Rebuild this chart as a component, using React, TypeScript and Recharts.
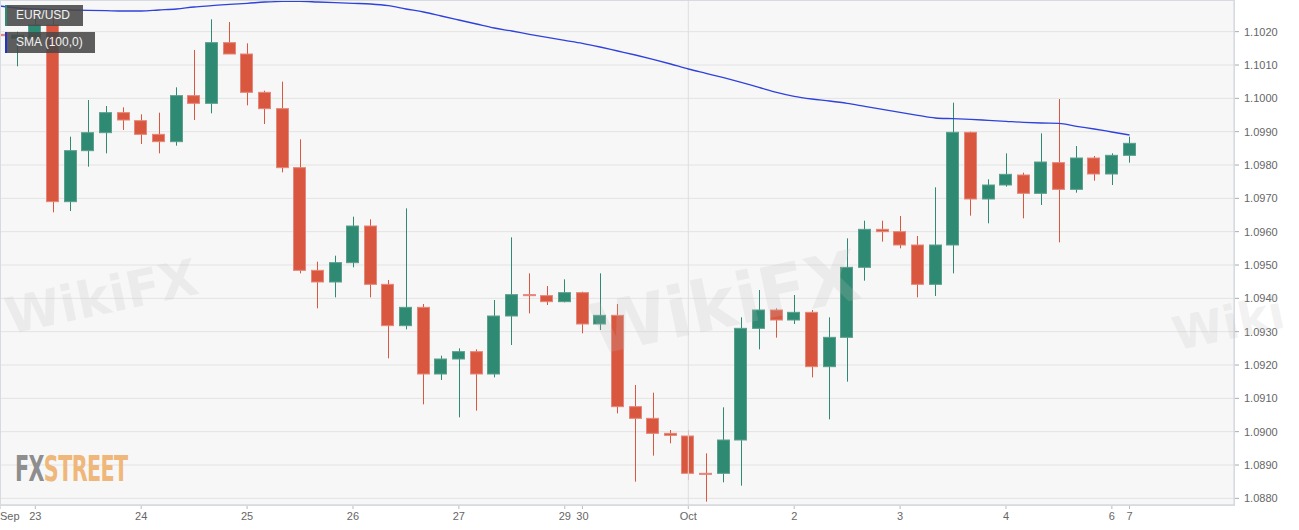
import React from 'react';
import { ComposedChart, Bar, Line, XAxis, YAxis, CartesianGrid, ReferenceLine } from 'recharts';

// 4h candles, EUR/USD, Sep 22 - Oct 7
const opens = [
  1.10192, 1.1018, 1.1018, 1.1022, 1.0969, 1.09843, 1.09897, 1.09957, 1.09933, 1.09892,
  1.0987, 1.10008, 1.09985, 1.10167, 1.10133, 1.10018, 1.09969, 1.09792, 1.09484, 1.09449,
  1.09507, 1.09617, 1.09442, 1.09318, 1.09373, 1.09173, 1.09218, 1.0924, 1.09173, 1.09347,
  1.09411, 1.09408, 1.0939, 1.09417, 1.09323, 1.09349, 1.09075, 1.0904, 1.08995, 1.08987,
  1.08875, 1.08875, 1.08975, 1.0931, 1.09365, 1.09335, 1.09358, 1.09195, 1.09283, 1.09493,
  1.09607, 1.096, 1.0956, 1.09442, 1.0956, 1.09898, 1.09698, 1.0974, 1.0977, 1.09715,
  1.09807, 1.09727, 1.09821, 1.09773, 1.09829,
];
const highs = [
  1.10205, 1.102, 1.1024, 1.10255, 1.09885, 1.09995, 1.09977, 1.09973, 1.09952, 1.09957,
  1.10033, 1.10145, 1.10237, 1.10229, 1.10165, 1.10023, 1.1005, 1.09877, 1.0951, 1.09528,
  1.09645, 1.09637, 1.09455, 1.0967, 1.09383, 1.09228, 1.0925, 1.09247, 1.09395, 1.09583,
  1.09475, 1.09437, 1.09457, 1.0942, 1.09475, 1.09383, 1.0914, 1.09117, 1.09005, 1.09005,
  1.08935, 1.09073, 1.09343, 1.09425, 1.0937, 1.0941, 1.09365, 1.09343, 1.0958, 1.09633,
  1.09633, 1.09647, 1.09587, 1.09733, 1.09987, 1.099, 1.09757, 1.09835, 1.09777, 1.09895,
  1.09998, 1.09857, 1.09827, 1.09835, 1.09885,
];
const lows = [
  1.1017, 1.10096, 1.10175, 1.09658, 1.09662, 1.09795, 1.09835, 1.09905, 1.09863, 1.09835,
  1.09858, 1.09935, 1.09955, 1.10133, 1.09979, 1.09923, 1.09778, 1.09475, 1.0937, 1.09403,
  1.09493, 1.09403, 1.0922, 1.09307, 1.09082, 1.09155, 1.09043, 1.09063, 1.09163, 1.0926,
  1.09355, 1.0938, 1.09388, 1.09295, 1.09305, 1.09055, 1.0885, 1.08928, 1.08965, 1.08855,
  1.0879, 1.08848, 1.08838, 1.09247, 1.09282, 1.09323, 1.09163, 1.09037, 1.0915, 1.09453,
  1.0957, 1.0955, 1.09403, 1.09407, 1.09475, 1.09648, 1.09625, 1.09735, 1.0964, 1.0968,
  1.09568, 1.09717, 1.09753, 1.0974, 1.09807,
];
const closes = [
  1.10188, 1.1019, 1.1022, 1.0969, 1.09843, 1.09897, 1.09957, 1.09935, 1.09892, 1.0987,
  1.10008, 1.09985, 1.10167, 1.10133, 1.10018, 1.09969, 1.09792, 1.09484, 1.09449, 1.09507,
  1.09617, 1.09442, 1.09318, 1.09373, 1.09173, 1.09218, 1.0924, 1.09173, 1.09347, 1.09411,
  1.09408, 1.0939, 1.09417, 1.09323, 1.09349, 1.09075, 1.0904, 1.08995, 1.08989, 1.08875,
  1.08872, 1.08975, 1.0931, 1.09365, 1.09335, 1.09358, 1.09195, 1.09283, 1.09493, 1.09607,
  1.096, 1.0956, 1.09442, 1.0956, 1.09898, 1.09698, 1.0974, 1.09772, 1.09715, 1.09809,
  1.09727, 1.09821, 1.09773, 1.09829, 1.09865,
];
const sma100 = [
  1.10277, 1.10271, 1.10268, 1.10266, 1.10265, 1.10264, 1.10263, 1.10262, 1.10262, 1.10265,
  1.10268, 1.10274, 1.10278, 1.10282, 1.10285, 1.10289, 1.10291, 1.10291, 1.10289, 1.10287,
  1.10285, 1.10283, 1.10278, 1.10268, 1.10259, 1.10247, 1.10235, 1.10223, 1.10211, 1.10202,
  1.10192, 1.10183, 1.10174, 1.10165, 1.10154, 1.10142, 1.1013, 1.10117, 1.10103, 1.10088,
  1.10075, 1.10062, 1.10048, 1.10033, 1.10018, 1.10006, 1.09998, 1.09992, 1.09985, 1.09976,
  1.09967, 1.09958, 1.09949, 1.09941, 1.09939, 1.09937, 1.09934, 1.09931, 1.09928, 1.09926,
  1.09925, 1.09916, 1.09908, 1.09899, 1.0989,
];

const dayTicks = [0, 2, 8, 14, 20, 26, 32, 33, 39, 45, 51, 57, 63, 64];
const dayLabels = ['Sep', '23', '24', '25', '26', '27', '29', '30', 'Oct', '2', '3', '4', '6', '7'];
const priceTicks = [
  1.088, 1.089, 1.09, 1.091, 1.092, 1.093, 1.094, 1.095, 1.096, 1.097, 1.098, 1.099, 1.1, 1.101, 1.102,
];

const data = opens.map((o, i) => ({
  i,
  open: o,
  high: highs[i],
  low: lows[i],
  close: closes[i],
  range: [lows[i], highs[i]],
  sma: sma100[i],
}));

const UP = '#2f8a73';
const UP_EDGE = '#5c9f8c';
const DOWN = '#d9573f';
const DOWN_EDGE = '#e5877a';
const FONT = '"Liberation Sans", Arial, sans-serif';

const Candle = (props: any) => {
  const { x, y, width, height, payload } = props;
  if (x == null || y == null) return null;
  const { open, close, high, low } = payload;
  const top = Math.min(y, y + height);
  const h = Math.abs(height);
  const k = h / (high - low);
  const yAt = (v: number) => top + (high - v) * k;
  const up = close >= open;
  const cx = Math.round(x + width / 2) + 0.5;
  const bTop = yAt(Math.max(open, close));
  const bBot = yAt(Math.min(open, close));
  return (
    <g>
      <line x1={cx} x2={cx} y1={top} y2={top + h} stroke={up ? UP : DOWN} strokeWidth={1} />
      <rect
        x={Math.round(x) + 0.5}
        y={bTop}
        width={Math.round(width) - 1}
        height={Math.max(bBot - bTop, 1)}
        fill={up ? UP : DOWN}
        stroke={up ? UP_EDGE : DOWN_EDGE}
        strokeWidth={1}
      />
    </g>
  );
};

const DayTick = (props: any) => {
  const { x, y, payload } = props;
  const idx = dayTicks.indexOf(payload.value);
  const label = idx >= 0 ? dayLabels[idx] : '';
  return (
    <text
      x={x}
      y={y}
      dy="0.71em"
      textAnchor={payload.value === 0 ? 'start' : 'middle'}
      fill="#666"
      fontSize={11}
      fontFamily={FONT}
    >
      {label}
    </text>
  );
};

const tag = (top: number, width: number, edge: string): React.CSSProperties => ({
  position: 'absolute',
  left: 5,
  top,
  width,
  height: 21,
  boxSizing: 'border-box',
  background: 'rgba(72,72,72,0.88)',
  borderLeft: `2px solid ${edge}`,
  color: '#f2f2f2',
  fontFamily: FONT,
  fontSize: 12,
  lineHeight: '21px',
  paddingLeft: 9,
});

const wm = (left: number, top: number, size: number): React.CSSProperties => ({
  position: 'absolute',
  left,
  top,
  fontFamily: '"DejaVu Sans", sans-serif',
  fontWeight: 'bold',
  fontSize: size,
  color: 'rgba(190,190,190,0.2)',
  transform: 'rotate(-12deg)',
  pointerEvents: 'none',
  whiteSpace: 'nowrap',
});

export default function App() {
  return (
    <div style={{ position: 'absolute', left: 0, top: 0, width: 1299, height: 530, background: '#fff', overflow: 'hidden' }}>
      <ComposedChart width={1299} height={530} data={data} margin={{ top: 0, right: 0, bottom: 0, left: 0 }}>
        <CartesianGrid vertical={false} stroke="#e3e3e3" fill="#f7f7f7" />
        <XAxis
          dataKey="i"
          type="number"
          domain={[0, 69.92]}
          allowDataOverflow
          ticks={dayTicks}
          interval={0}
          height={25}
          tickSize={4}
          tickMargin={3}
          axisLine={{ stroke: '#cfd3da' }}
          tickLine={{ stroke: '#bbb' }}
          tick={<DayTick />}
        />
        <YAxis
          orientation="right"
          type="number"
          width={65}
          domain={[1.0878, 1.10295]}
          allowDataOverflow
          ticks={priceTicks}
          interval={0}
          tickSize={5}
          tickMargin={5}
          axisLine={{ stroke: '#cfd3da' }}
          tickLine={{ stroke: '#aaa' }}
          tick={{ fill: '#666', fontSize: 11, fontFamily: FONT }}
          tickFormatter={(v: number) => v.toFixed(4)}
        />
        <ReferenceLine x={39} stroke="#dedede" />
        <Bar dataKey="range" barSize={13} shape={<Candle />} isAnimationActive={false} />
        <Line
          dataKey="sma"
          type="monotone"
          stroke="#2f42dc"
          strokeWidth={1.3}
          dot={false}
          activeDot={false}
          isAnimationActive={false}
        />
      </ComposedChart>

      <div style={{ position: 'absolute', left: 0, top: 0, width: 1235, height: 506, boxSizing: 'border-box', border: '1px solid #d7dae1', pointerEvents: 'none' }} />

      <div style={wm(4, 268, 50)}>WikiFX</div>
      <div style={wm(588, 262, 70)}>WikiFX</div>
      <div style={wm(1172, 296, 46)}>Wiki</div>

      <div style={tag(5, 78, UP)}>EUR/USD</div>
      <div style={tag(32, 90, '#2233c8')}>SMA (100,0)</div>

      <div
        style={{
          position: 'absolute',
          left: 15,
          top: 448,
          fontFamily: '"DejaVu Sans Condensed", "DejaVu Sans", sans-serif',
          fontWeight: 'bold',
          fontSize: 36,
          letterSpacing: -1,
          transform: 'scaleX(0.64)',
          transformOrigin: 'left top',
          whiteSpace: 'nowrap',
        }}
      >
        <span style={{ color: '#8e8e8e' }}>FX</span>
        <span style={{ color: '#efb77a' }}>STREET</span>
      </div>
    </div>
  );
}
